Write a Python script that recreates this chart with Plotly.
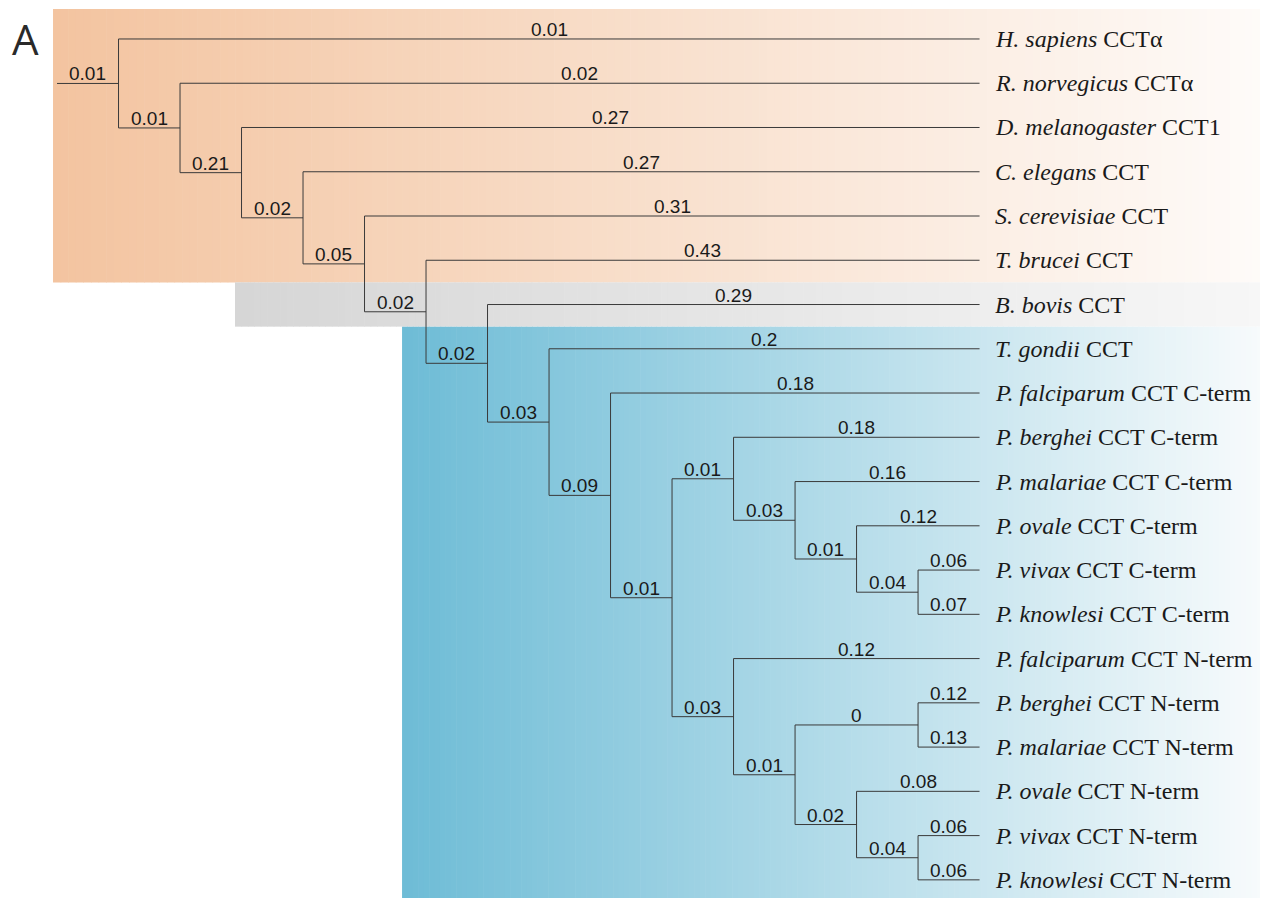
import plotly.graph_objects as go

# ---------------- data ----------------
tip_species = ["H. sapiens", "R. norvegicus", "D. melanogaster", "C. elegans", "S. cerevisiae",
               "T. brucei", "B. bovis", "T. gondii", "P. falciparum", "P. berghei", "P. malariae",
               "P. ovale", "P. vivax", "P. knowlesi", "P. falciparum", "P. berghei", "P. malariae",
               "P. ovale", "P. vivax", "P. knowlesi"]
tip_suffix = ["CCTα", "CCTα", "CCT1", "CCT", "CCT", "CCT", "CCT", "CCT",
              "CCT C-term", "CCT C-term", "CCT C-term", "CCT C-term", "CCT C-term", "CCT C-term",
              "CCT N-term", "CCT N-term", "CCT N-term", "CCT N-term", "CCT N-term", "CCT N-term"]
tip_ids = ["t%d" % i for i in range(len(tip_species))]

# tree topology: parent -> child with branch-length label
edge_parent = ["N0", "N0", "N1", "N1", "N2", "N2", "N3", "N3", "N4", "N4", "N5", "N5",
               "N6", "N6", "N7", "N7", "N8", "N8", "N9", "N9", "N10", "N10", "N11", "N11",
               "N12", "N12", "N13", "N13", "N14", "N14", "N15", "N15", "N16", "N16",
               "N17", "N17", "N18", "N18"]
edge_child = ["t0", "N1", "t1", "N2", "t2", "N3", "t3", "N4", "t4", "N5", "t5", "N6",
              "t6", "N7", "t7", "N8", "t8", "N9", "N10", "N14", "t9", "N11", "t10", "N12",
              "t11", "N13", "t12", "t13", "t14", "N15", "N16", "N17", "t15", "t16",
              "t17", "N18", "t18", "t19"]
edge_label = ["0.01", "0.01", "0.02", "0.21", "0.27", "0.02", "0.27", "0.05", "0.31", "0.02",
              "0.43", "0.02", "0.29", "0.03", "0.2", "0.09", "0.18", "0.01", "0.01", "0.03",
              "0.18", "0.03", "0.16", "0.01", "0.12", "0.04", "0.06", "0.07", "0.12", "0.01",
              "0", "0.02", "0.12", "0.13", "0.08", "0.04", "0.06", "0.06"]
root_node = "N0"
root_label = "0.01"

# shaded groups (tip index ranges)
group_first_tip = [0, 6, 7]
group_last_tip = [5, 6, 19]
group_start_col = [-0.065, 2.894, 5.61]
group_left_color = [(243, 196, 160), (214, 214, 214), (110, 188, 214)]
group_right_color = [(254, 251, 249), (247, 247, 247), (248, 251, 252)]

# ---------------- layout of tree ----------------
children = {}
for p, c in zip(edge_parent, edge_child):
    children.setdefault(p, []).append(c)

ypos = {t: i for i, t in enumerate(tip_ids)}
height = {t: 0 for t in tip_ids}


def compute(n):
    if n in ypos:
        return
    for c in children[n]:
        compute(c)
    ypos[n] = sum(ypos[c] for c in children[n]) / len(children[n])
    height[n] = 1 + max(height[c] for c in children[n])


compute(root_node)
tip_col = height[root_node] + 1
xpos = {n: tip_col - h for n, h in height.items()}

# page has an 8px body margin; figure is 1260x890 so it fills the window
FIG_W, FIG_H = 1260, 890
X_MIN, X_MAX = -0.797, 19.69
Y_MIN, Y_MAX = -0.70, 19.41

fig = go.Figure()

# gradient backgrounds
shapes = []
NSTRIP = 160
for g in range(len(group_first_tip)):
    y0 = group_first_tip[g] - 0.5 if group_first_tip[g] > 0 else -0.68
    y1 = group_last_tip[g] + 0.5 if group_last_tip[g] < len(tip_ids) - 1 else Y_MAX
    xs = group_start_col[g]
    w = (X_MAX - xs) / NSTRIP
    lc, rc = group_left_color[g], group_right_color[g]
    for k in range(NSTRIP):
        f = k / (NSTRIP - 1)
        col = tuple(int(round(lc[j] + (rc[j] - lc[j]) * f)) for j in range(3))
        shapes.append(dict(type="rect", xref="x", yref="y", layer="below",
                           x0=xs + k * w, x1=xs + (k + 1) * w + 0.01, y0=y0, y1=y1,
                           fillcolor="rgb(%d,%d,%d)" % col, line=dict(width=0)))

# branches
lx, ly = [], []
lx += [xpos[root_node] - 1, xpos[root_node], None]
ly += [ypos[root_node], ypos[root_node], None]
for n, ch in children.items():
    ys = [ypos[c] for c in ch]
    lx += [xpos[n], xpos[n], None]
    ly += [min(ys), max(ys), None]
for p, c in zip(edge_parent, edge_child):
    lx += [xpos[p], xpos[c], None]
    ly += [ypos[c], ypos[c], None]

fig.add_trace(go.Scatter(x=lx, y=ly, mode="lines", line=dict(color="#3a3a3a", width=1),
                         hoverinfo="skip", showlegend=False))

annotations = []
lab_font = dict(family="Liberation Sans, Arial, sans-serif", size=19, color="#1a1a1a")
annotations.append(dict(x=xpos[root_node] - 0.5, y=ypos[root_node], xref="x", yref="y",
                        text=root_label, showarrow=False, yanchor="bottom", yshift=-3,
                        font=lab_font))
for p, c, t in zip(edge_parent, edge_child, edge_label):
    annotations.append(dict(x=(xpos[p] + xpos[c]) / 2, y=ypos[c], xref="x", yref="y",
                            text=t, showarrow=False, yanchor="bottom", yshift=-3,
                            font=lab_font))

tip_font = dict(family="Liberation Serif, Times New Roman, serif", size=24, color="#1a1a1a")
for i, t in enumerate(tip_ids):
    annotations.append(dict(x=xpos[t], y=ypos[t], xref="x", yref="y",
                            text="<i>%s</i> %s" % (tip_species[i], tip_suffix[i]),
                            showarrow=False, xanchor="left", yanchor="middle",
                            xshift=13, yshift=0, font=tip_font))

annotations.append(dict(x=2 / FIG_W, y=1, xref="paper", yref="paper", text="A",
                        showarrow=False, xanchor="left", yanchor="top",
                        font=dict(family="Open Sans, Liberation Sans, sans-serif", size=42,
                                  color="#2a2a2a")))

fig.update_layout(
    width=FIG_W, height=FIG_H,
    margin=dict(l=0, r=0, t=0, b=0),
    paper_bgcolor="white", plot_bgcolor="white",
    shapes=shapes, annotations=annotations,
    xaxis=dict(range=[X_MIN, X_MAX], visible=False, fixedrange=True),
    yaxis=dict(range=[Y_MAX, Y_MIN], visible=False, fixedrange=True),
    showlegend=False,
)

fig.write_html("out.html")
